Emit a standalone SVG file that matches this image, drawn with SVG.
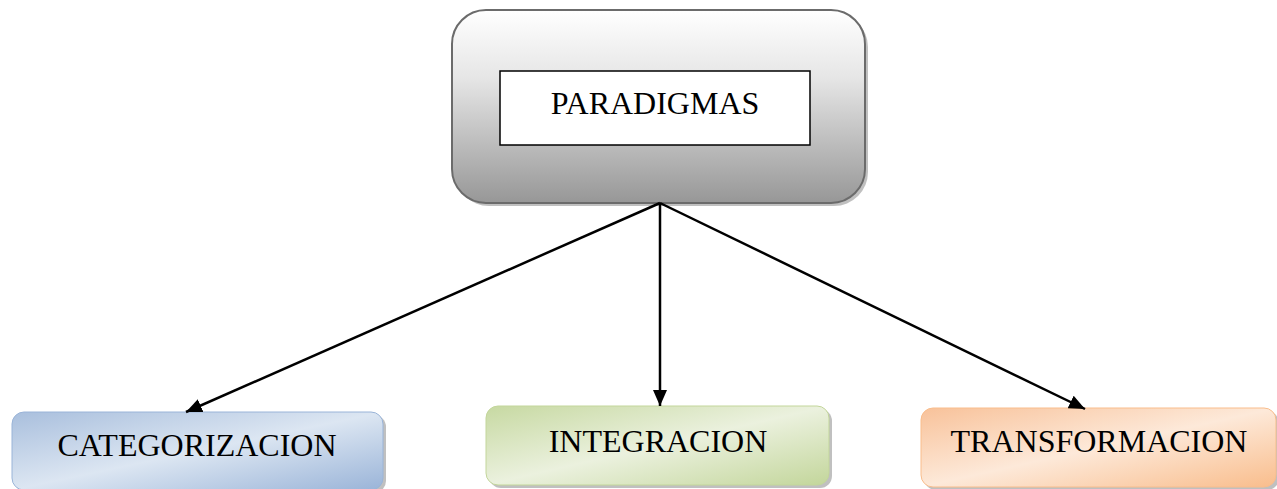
<svg xmlns="http://www.w3.org/2000/svg" width="1277" height="489" viewBox="0 0 1277 489">
<defs>
<linearGradient id="gGray" x1="0" y1="0" x2="0" y2="1">
<stop offset="0" stop-color="#ffffff"/>
<stop offset="0.35" stop-color="#e6e6e6"/>
<stop offset="1" stop-color="#979797"/>
</linearGradient>
<linearGradient id="gBlue" x1="0" y1="0" x2="1" y2="1">
<stop offset="0" stop-color="#a9bfdd"/>
<stop offset="0.5" stop-color="#dce6f2"/>
<stop offset="1" stop-color="#9ab4d8"/>
</linearGradient>
<linearGradient id="gGreen" x1="0" y1="0" x2="1" y2="1">
<stop offset="0" stop-color="#c7d9a2"/>
<stop offset="0.5" stop-color="#ebf1de"/>
<stop offset="1" stop-color="#c3d69b"/>
</linearGradient>
<linearGradient id="gOrange" x1="0" y1="0" x2="1" y2="1">
<stop offset="0" stop-color="#f8c29a"/>
<stop offset="0.5" stop-color="#fde9d9"/>
<stop offset="1" stop-color="#f9bd8c"/>
</linearGradient>
<marker id="arr" viewBox="0 0 10 10" refX="9" refY="5" markerWidth="7" markerHeight="7" markerUnits="userSpaceOnUse" orient="auto">
<path d="M0,0 L10,5 L0,10 z" fill="#000"/>
</marker>
<marker id="arrow" viewBox="0 0 16 14" refX="16" refY="7" markerWidth="16" markerHeight="14" markerUnits="userSpaceOnUse" orient="auto">
<path d="M0,0 L16,7 L0,14 z" fill="#000"/>
</marker>
</defs>
<style>
.lbl{font-family:"Liberation Serif","Times New Roman",serif;font-size:32px;fill:#000;text-anchor:middle}
.shadow{fill:#8c8c8c;opacity:0.55}
.conn{stroke:#000;stroke-width:2.5;fill:none;marker-end:url(#arrow)}
</style>
<g id="paradigmas">
<rect class="shadow" x="455" y="13" width="413" height="193" rx="34"/>
<rect x="452" y="10" width="413" height="193" rx="34" fill="url(#gGray)" stroke="#6b6b6b" stroke-width="2"/>
<rect x="500" y="71" width="310" height="74" fill="#fff" stroke="#000" stroke-width="1.5"/>
<text class="lbl" x="655" y="114">PARADIGMAS</text>
</g>
<g id="categorizacion">
<rect class="shadow" x="15" y="415" width="371" height="78" rx="12"/>
<rect x="12" y="412" width="371" height="78" rx="12" fill="url(#gBlue)" stroke="#9ab4d8" stroke-width="1"/>
<text class="lbl" x="197" y="456">CATEGORIZACION</text>
</g>
<g id="integracion">
<rect class="shadow" x="489" y="409" width="343" height="79" rx="12"/>
<rect x="486" y="406" width="343" height="79" rx="12" fill="url(#gGreen)" stroke="#c3d69b" stroke-width="1"/>
<text class="lbl" x="658" y="452">INTEGRACION</text>
</g>
<g id="transformacion">
<rect class="shadow" x="924" y="411" width="355" height="79" rx="12"/>
<rect x="921" y="408" width="355" height="79" rx="12" fill="url(#gOrange)" stroke="#f9bd8c" stroke-width="1"/>
<text class="lbl" x="1099" y="452">TRANSFORMACION</text>
</g>
<g id="connectors">
<line class="conn" x1="660" y1="203" x2="186" y2="412"/>
<line class="conn" x1="660" y1="203" x2="660" y2="406"/>
<line class="conn" x1="660" y1="203" x2="1085" y2="409"/>
</g>
</svg>
